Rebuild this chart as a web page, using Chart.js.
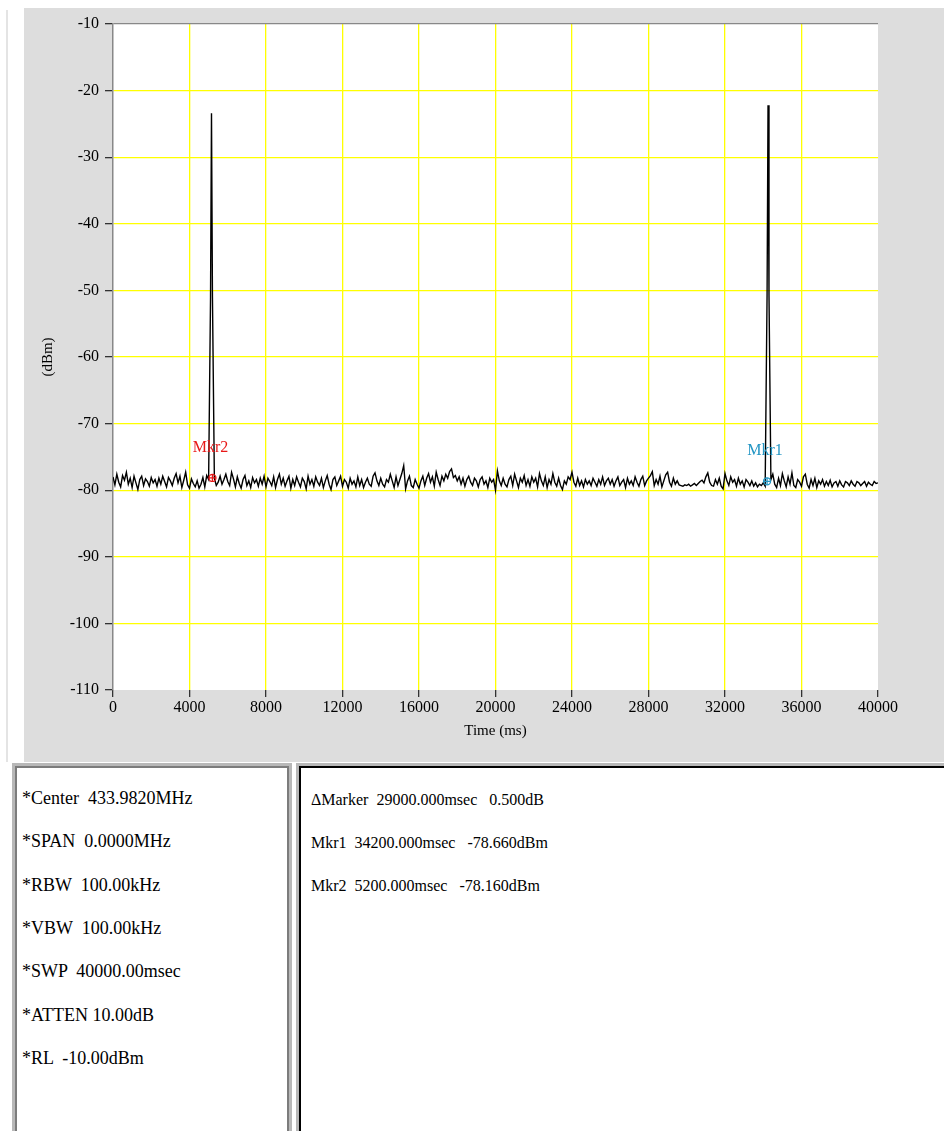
<!DOCTYPE html>
<html>
<head>
<meta charset="utf-8">
<script src="https://cdn.jsdelivr.net/npm/chart.js@4.4.1/dist/chart.umd.min.js"></script>
<style>
  body { margin: 0; width: 944px; height: 1131px; background: #fff; position: relative; overflow: hidden; font-family: "Liberation Serif", serif; }
  #edge { position: absolute; left: 6px; top: 10px; width: 2px; height: 752px; background: #e4e4e4; }
  #grafico { position: absolute; left: 24px; top: 8px; background: #dddddd; }
  .caja { position: absolute; top: 763px; height: 380px; background: #fff; border: 3px solid #b8b8b8; box-sizing: border-box; }
  #izq { left: 12px; width: 280px; box-shadow: inset 2px 2px 0 #7c7c7c, inset -2px 0 0 #7c7c7c; }
  #der { left: 296px; width: 660px; box-shadow: inset 2px 2px 0 #000; }
  .txt { position: absolute; line-height: 20px; color: #000; white-space: pre; }
</style>
</head>
<body>
<div id="edge"></div>
<canvas id="grafico" width="920" height="754"></canvas>
<div class="caja" id="izq"></div>
<div class="caja" id="der"></div>
<div id="textos"></div>
<script>
// Traza del analizador (401 muestras, una cada 100 ms)
const pasoMs = 100;
const trazaDbm = [
  -78.0,-79.2,-77.6,-78.8,-79.5,-77.8,-78.5,-77.3,-79.1,-78.2,-79.6,-77.9,-78.9,-79.9,-78.4,-77.9,-79.3,-78.3,-78.7,-79.4,
  -78.1,-78.9,-78.4,-79.4,-78.2,-79.1,-77.9,-78.7,-79.5,-78.1,-78.6,-79.3,-78.2,-77.5,-78.9,-77.9,-79.6,-78.5,-77.3,-79.2,
  -79.7,-78.3,-79.0,-79.5,-78.6,-79.7,-79.1,-78.1,-79.5,-77.8,-78.4,-51.0,-51.0,-78.2,-79.3,-78.8,-77.9,-79.1,-78.4,-77.6,
  -78.7,-79.3,-77.3,-78.3,-79.5,-78.0,-79.0,-79.7,-78.4,-77.8,-79.3,-78.6,-79.6,-78.1,-78.9,-78.4,-79.4,-78.2,-79.1,-77.9,
  -79.5,-78.2,-78.7,-79.3,-78.0,-79.6,-78.4,-77.6,-79.1,-78.2,-79.4,-78.6,-77.9,-79.7,-78.4,-79.3,-78.0,-78.8,-79.5,-78.2,
  -78.7,-79.8,-77.9,-79.1,-78.4,-79.4,-78.0,-78.8,-79.3,-78.2,-79.6,-78.6,-77.8,-79.1,-79.9,-78.4,-78.0,-79.3,-78.6,-77.9,
  -79.4,-78.4,-78.8,-79.7,-78.2,-79.1,-78.6,-79.5,-78.0,-79.3,-78.4,-79.6,-78.8,-78.2,-79.1,-79.4,-77.9,-77.4,-78.6,-79.3,
  -78.2,-79.1,-79.5,-78.4,-78.8,-77.6,-78.6,-79.6,-78.0,-79.3,-78.4,-77.5,-76.3,-79.8,-78.6,-77.9,-79.3,-79.6,-78.4,-79.1,
  -79.7,-78.6,-77.9,-79.3,-78.2,-77.5,-78.8,-78.0,-79.4,-77.3,-78.4,-79.3,-77.9,-78.6,-77.6,-78.2,-77.2,-76.8,-78.1,-77.8,
  -78.6,-78.0,-79.1,-78.2,-79.4,-78.4,-77.9,-78.8,-79.3,-78.2,-78.6,-79.5,-78.4,-78.0,-79.1,-78.6,-79.6,-78.2,-78.8,-78.4,
  -80.0,-77.1,-78.6,-79.3,-78.2,-79.1,-79.5,-78.4,-77.9,-79.3,-77.6,-78.6,-79.6,-78.2,-78.8,-77.8,-79.3,-78.4,-79.4,-78.0,
  -78.8,-78.2,-79.5,-77.5,-78.6,-79.3,-78.0,-79.6,-78.4,-79.1,-77.5,-78.8,-79.4,-78.2,-79.3,-79.9,-78.6,-79.1,-78.0,-78.4,
  -77.3,-78.8,-79.4,-78.2,-79.3,-78.6,-79.5,-78.4,-79.1,-78.6,-79.3,-78.2,-78.8,-79.4,-78.4,-79.1,-78.0,-79.3,-78.6,-78.2,
  -79.1,-78.4,-79.4,-78.6,-78.0,-79.3,-78.8,-78.4,-79.6,-78.2,-79.1,-78.6,-79.3,-78.0,-78.8,-79.4,-78.4,-77.9,-79.3,-78.6,
  -78.2,-77.8,-77.2,-79.3,-78.4,-79.1,-77.9,-79.5,-78.6,-77.7,-77.3,-78.8,-79.4,-78.2,-79.1,-78.6,-79.2,-79.3,-79.4,-79.2,
  -79.3,-79.1,-79.4,-79.2,-79.0,-79.3,-79.0,-78.7,-78.5,-78.9,-78.0,-77.4,-78.8,-79.3,-79.4,-78.4,-79.1,-78.2,-79.4,-79.8,
  -77.5,-78.6,-79.3,-78.0,-78.8,-78.4,-79.4,-78.2,-79.1,-78.6,-79.5,-78.4,-78.8,-79.3,-78.6,-79.4,-78.9,-79.5,-79.1,-79.3,
  -78.9,-79.4,-50.7,-50.7,-78.4,-77.6,-79.1,-79.6,-78.2,-79.3,-77.5,-78.6,-79.5,-78.0,-79.1,-77.4,-79.3,-79.6,-78.4,-78.8,
  -79.4,-78.0,-77.6,-79.1,-79.7,-78.4,-79.3,-78.2,-79.6,-78.6,-79.1,-78.4,-79.4,-78.7,-79.3,-78.5,-79.5,-78.9,-78.7,-79.4,
  -78.6,-79.2,-79.5,-78.7,-78.9,-79.3,-78.6,-79.1,-79.4,-78.7,-78.9,-79.3,-79.0,-78.7,-79.4,-78.8,-79.1,-79.3,-78.7,-79.0,
  -78.9
];

// Picos de las dos rafagas
const picosMs = [5150, 34250];
const picosDbm = [-23.4, -22.2];

// Marcadores
const marcadores = ['Mkr1', 'Mkr2'];
const marcadoresMs = [34200, 5200];
const marcadoresDbm = [-78.66, -78.16];
const marcadoresColor = ['#2496c4', '#e81818'];

// Ejes
const ejeX = [0, 40000, 4000];
const ejeY = [-110, -10, 10];

// Panel de ajustes y lecturas
const ajustes = ['*Center  433.9820MHz', '*SPAN  0.0000MHz', '*RBW  100.00kHz', '*VBW  100.00kHz',
  '*SWP  40000.00msec', '*ATTEN 10.00dB', '*RL  -10.00dBm'];
const lecturas = ['\u0394Marker  29000.000msec   0.500dB', 'Mkr1  34200.000msec   -78.660dBm',
  'Mkr2  5200.000msec   -78.160dBm'];

// Armar la traza con los picos intercalados
const puntos = trazaDbm.map((v, i) => ({ x: i * pasoMs, y: v }));
picosMs.forEach((t, k) => puntos.push({ x: t, y: picosDbm[k] }));
puntos.sort((a, b) => a.x - b.x);

const puntosMkr = marcadoresMs.map((t, k) => ({ x: t, y: marcadoresDbm[k] }));

// Fondo blanco del area de trazado
const fondoBlanco = {
  id: 'fondoBlanco',
  beforeDraw(chart) {
    const { ctx, chartArea: a } = chart;
    ctx.save();
    ctx.fillStyle = '#fff';
    ctx.fillRect(a.left, a.top, a.right - a.left, a.bottom - a.top);
    ctx.restore();
  }
};

// Etiquetas de los marcadores
const etiquetasMkr = {
  id: 'etiquetasMkr',
  afterDatasetsDraw(chart) {
    const { ctx, scales } = chart;
    ctx.save();
    ctx.font = '16px "Liberation Serif", serif';
    ctx.textAlign = 'center';
    ctx.textBaseline = 'middle';
    marcadores.forEach((m, k) => {
      const px = scales.x.getPixelForValue(marcadoresMs[k]);
      const py = scales.y.getPixelForValue(marcadoresDbm[k]);
      ctx.fillStyle = marcadoresColor[k];
      ctx.fillText(m, px - 2, py - 30);
    });
    ctx.restore();
  }
};

const fuente = { family: '"Liberation Serif", serif', size: 16 };

new Chart(document.getElementById('grafico'), {
  type: 'line',
  data: {
    datasets: [
      {
        data: puntos,
        borderColor: '#000',
        borderWidth: 1.4,
        pointRadius: 0,
        tension: 0,
        order: 2
      },
      {
        type: 'scatter',
        data: puntosMkr,
        pointStyle: 'circle',
        pointRadius: 3.5,
        borderWidth: 1.3,
        pointBorderColor: marcadoresColor,
        pointBackgroundColor: 'rgba(255,255,255,0)',
        order: 1
      },
      {
        type: 'scatter',
        data: puntosMkr,
        pointStyle: 'cross',
        pointRadius: 3.5,
        borderWidth: 1.3,
        pointBorderColor: marcadoresColor,
        order: 0
      }
    ]
  },
  options: {
    responsive: false,
    animation: false,
    layout: { padding: { left: 0, top: 16, right: 66, bottom: 0 } },
    plugins: { legend: { display: false }, tooltip: { enabled: false } },
    scales: {
      x: {
        type: 'linear',
        min: ejeX[0],
        max: ejeX[1],
        afterFit: s => { s.height = 72; },
        ticks: { stepSize: ejeX[2], color: '#000', font: fuente, padding: 1, maxRotation: 0,
          callback: v => String(v) },
        grid: {
          color: c => (c.tick.value === ejeX[0] || c.tick.value === ejeX[1]) ? 'rgba(0,0,0,0)' : '#ffff00',
          tickColor: '#333',
          tickLength: 7,
          lineWidth: 1.3
        },
        border: { display: false },
        title: { display: true, text: 'Time (ms)', color: '#000', font: { family: '"Liberation Serif", serif', size: 15 },
          padding: { top: 22, bottom: 22 } }
      },
      y: {
        min: ejeY[0],
        max: ejeY[1],
        afterFit: s => { s.width = 89; },
        ticks: { stepSize: ejeY[2], color: '#000', font: fuente, padding: 6,
          callback: v => String(v) },
        grid: {
          color: c => c.tick.value === ejeY[1] ? '#888' : (c.tick.value === ejeY[0] ? 'rgba(0,0,0,0)' : '#ffff00'),
          tickColor: '#333',
          tickLength: 8,
          lineWidth: 1.3
        },
        border: { display: true, color: '#888', width: 1.5 },
        title: { display: true, text: '(dBm)', color: '#000', font: { family: '"Liberation Serif", serif', size: 15 },
          padding: { top: 15, bottom: 0 } }
      }
    }
  },
  plugins: [fondoBlanco, etiquetasMkr]
});

// Textos de los paneles inferiores
const textos = document.getElementById('textos');
ajustes.forEach((t, i) => {
  const d = document.createElement('div');
  d.className = 'txt';
  d.style.fontSize = '18px';
  d.style.left = '22px';
  d.style.top = (788 + i * 43.3) + 'px';
  d.textContent = t;
  textos.appendChild(d);
});
lecturas.forEach((t, i) => {
  const d = document.createElement('div');
  d.className = 'txt';
  d.style.fontSize = '16px';
  d.style.left = '311px';
  d.style.top = (790 + i * 43) + 'px';
  d.textContent = t;
  textos.appendChild(d);
});
</script>
</body>
</html>
